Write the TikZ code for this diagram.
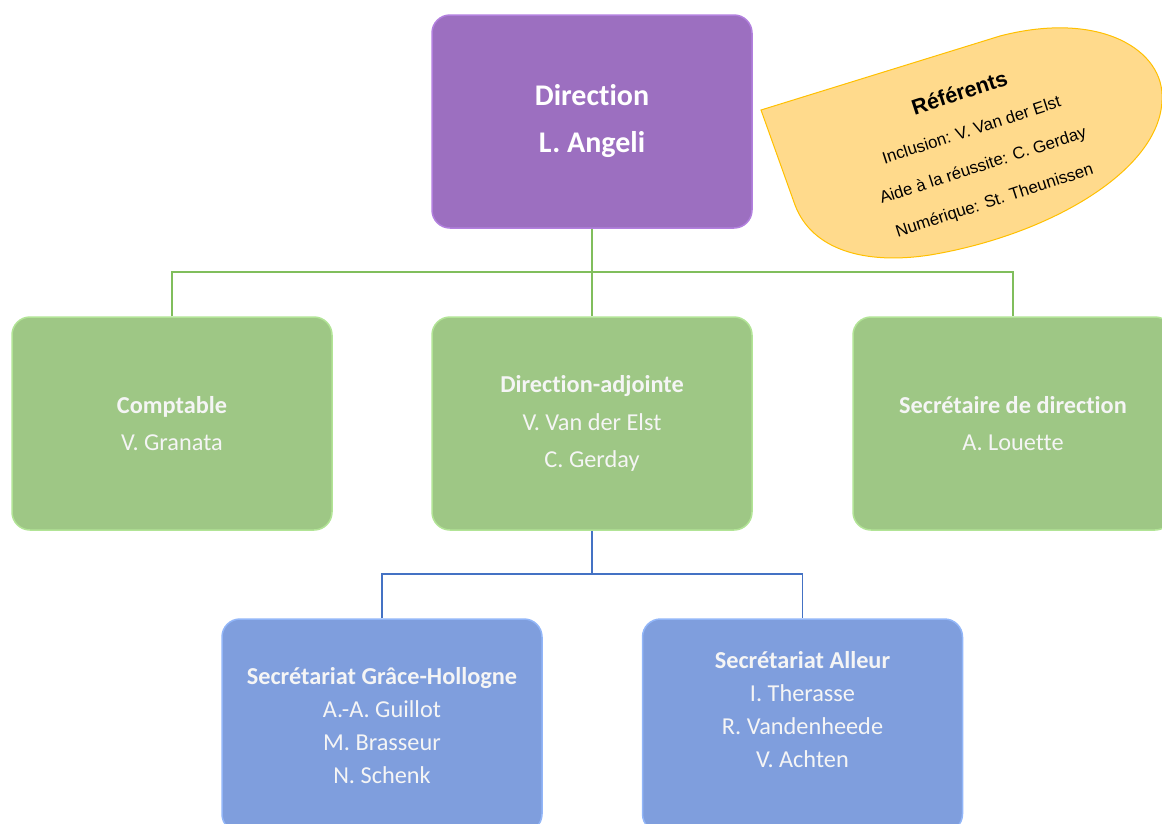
\documentclass[tikz,border=0pt]{standalone}
\usepackage{fontspec}
\setmainfont{Carlito}[Ligatures={NoCommon}]
\newfontfamily\arialf{Liberation Sans}
\definecolor{purpfill}{RGB}{156,111,192}
\definecolor{purprim}{RGB}{178,128,222}
\definecolor{grfill}{RGB}{158,199,133}
\definecolor{grrim}{RGB}{178,228,150}
\definecolor{blfill}{RGB}{127,158,221}
\definecolor{blrim}{RGB}{146,182,248}
\definecolor{gline}{RGB}{128,190,92}
\definecolor{bline}{RGB}{68,114,196}
\definecolor{reffill}{RGB}{255,218,140}
\definecolor{refrim}{RGB}{255,192,0}
\definecolor{softwhite}{RGB}{245,245,245}
\begin{document}
\begin{tikzpicture}[x=1pt,y=-1pt,
  box/.style={rounded corners=18pt, minimum width=320pt, minimum height=213pt,
    inner sep=0pt, align=center, line width=1.5pt},
  purplebox/.style={box, fill=purpfill, draw=purprim, text=white,
    font=\fontsize{30}{47}\selectfont\bfseries},
  greenbox/.style={box, fill=grfill, draw=grrim, text=softwhite,
    font=\fontsize{24.3}{37.5}\selectfont},
  bluebox/.style={box, fill=blfill, draw=blrim},
  bluetext/.style={align=center, text=softwhite, inner sep=0pt,
    font=\fontsize{24.3}{33}\selectfont},
  glink/.style={draw=gline, line width=1.2pt},
  blink/.style={draw=bline, line width=1.2pt},
  reftext/.style={rotate=18, inner sep=0pt, align=center, text=black,
    font=\arialf\fontsize{16.8}{37}\selectfont}
]
\useasboundingbox (0,0) rectangle (1162,823);
\clip (0,0) rectangle (1162,823);

% boxes
\node[purplebox] (dir) at (592,121.5) {Direction\\L. Angeli};
\node[greenbox] (comp) at (172,423.5) {\textbf{Comptable}\\V. Granata};
\node[greenbox] (adj) at (592,423.5) {\textbf{Direction-adjointe}\\V. Van der Elst\\C. Gerday};
\node[greenbox] (sec) at (1013,423.5) {\textbf{Secrétaire de direction}\\A. Louette};
\node[bluebox] (gh) at (382,725.5) {};
\node[bluebox] (all) at (802.5,725.5) {};
\node[bluetext] (ghtxt) at (382,726) {\textbf{Secrétariat Grâce-Hollogne}\\A.-A. Guillot\\M. Brasseur\\N. Schenk};
\node[bluetext] (alltxt) at (802.5,710) {\textbf{Secrétariat Alleur}\\I. Therasse\\R. Vandenheede\\V. Achten};

% connectors
\coordinate (jg) at (592,272);
\coordinate (jb) at (592,574);
\draw[glink] (dir.south) -- (jg);
\draw[glink] (comp.north) |- (jg) -| (sec.north);
\draw[glink] (jg) -- (adj.north);
\draw[blink, line width=2pt] (adj.south) -- (jb);
\draw[blink] (gh.north) |- (jb) -| (all.north);

% referents shape
\path[fill=reffill, draw=refrim, line width=1pt]
  (761,110) -- (1000,36) .. controls (1100,10) and (1165,50) .. (1162,100)
  .. controls (1160,170) and (1050,235) .. (930,255)
  .. controls (865,265) and (812,250) .. (795,205) -- cycle;
\node[reftext] (ref) at (977,147)
  {{\fontsize{21.5}{37}\selectfont\bfseries Référents}\\Inclusion: V. Van der Elst\\Aide à la réussite: C. Gerday\\Numérique: St. Theunissen};
\end{tikzpicture}
\end{document}
